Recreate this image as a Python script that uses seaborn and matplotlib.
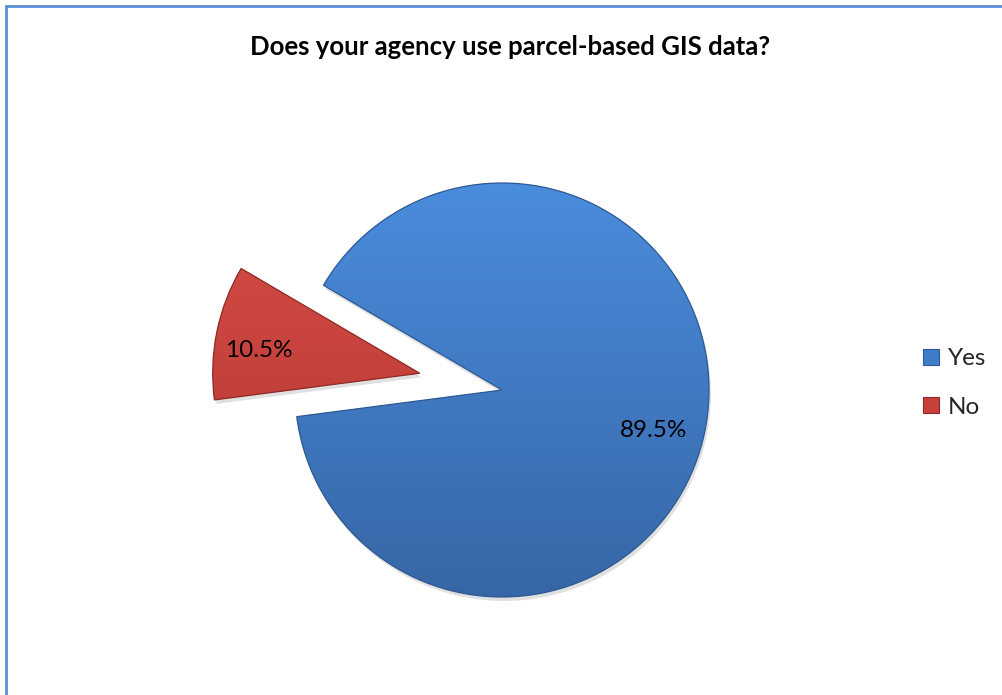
import numpy as np
import matplotlib
matplotlib.use("Agg")
import matplotlib.pyplot as plt
import seaborn as sns
from matplotlib.patches import Wedge, Rectangle
from matplotlib.lines import Line2D
from matplotlib.colors import LinearSegmentedColormap

# Survey answers
categories = ["Yes", "No"]
shares = [89.5, 10.5]
title = "Does your agency use parcel-based GIS data?"

sns.set_theme(style="white")
plt.rcParams["font.family"] = ["Lato", "DejaVu Sans"]

base_colors = ["#3F7DCB", "#C8403A"]
top_colors = ["#4A8DDD", "#D9504A"]
bottom_colors = ["#3766A6", "#B2332E"]
edge_colors = ["#2E5A93", "#8E2A26"]

W, H = 1002, 695
fig = plt.figure(figsize=(W / 100, H / 100), dpi=100)
fig.patch.set_facecolor("white")
ax = fig.add_axes([0, 0, 1, 1])

cx, cy, r = 502, H - 390, 207
pull = [0, 84]  # the "No" slice is pulled out of the pie

# soft drop shadow under the slices
shadow_w, _ = ax.pie(
    shares, startangle=149.6, counterclock=False, explode=pull,
    center=(cx + 2, cy - 4), radius=r,
    colors=["#000000", "#000000"],
    wedgeprops=dict(linewidth=0, alpha=0.12),
)
for sw in shadow_w:
    sw.set_zorder(0.5)

wedges, texts, autotexts = ax.pie(
    shares, startangle=149.6, counterclock=False, explode=pull,
    center=(cx, cy), radius=r, colors=base_colors,
    autopct="%.1f%%", pctdistance=0.77,
    textprops=dict(fontsize=17.5, color="black"),
    wedgeprops=dict(linewidth=0),
)

# vertical shading inside each slice
for w, c_top, c_bot, c_edge in zip(wedges, top_colors, bottom_colors, edge_colors):
    w.set_zorder(1)
    cmap = LinearSegmentedColormap.from_list("shade", [c_bot, c_top])
    grad = np.linspace(0, 1, 256).reshape(-1, 1)
    (x0, y0) = w.center
    im = ax.imshow(grad, extent=(x0 - r, x0 + r, y0 - r, y0 + r), origin="lower",
                   cmap=cmap, aspect="auto", zorder=1.1, interpolation="bicubic")
    im.set_clip_path(w)
    outline = Wedge(w.center, w.r, w.theta1, w.theta2, fill=False,
                    edgecolor=c_edge, linewidth=0.9, zorder=1.2)
    ax.add_patch(outline)

# percentage labels sit slightly lower-left of the default spot
for t in autotexts:
    t.set_zorder(3)
    x, y = t.get_position()
    t.set_position((x - 5, y - 9))

ax.set_xlim(0, W)
ax.set_ylim(0, H)
ax.set_aspect("equal")
ax.axis("off")

fig.text(510 / W, 1 - 47 / H, title, ha="center", va="center",
         fontsize=18.5, fontweight="bold", color="black")

handles = [Line2D([0], [0], marker="s", linestyle="none", markersize=11,
                  markerfacecolor=c, markeredgecolor=e, markeredgewidth=0.8)
           for c, e in zip(base_colors, edge_colors)]
fig.legend(handles, categories, loc="center left",
           bbox_to_anchor=(899 / W, 1 - 383 / H), frameon=False,
           fontsize=17.5, handlelength=0.8, handletextpad=0.3, labelspacing=1.15)

# chart frame
fig.add_artist(Rectangle((6 / W, -0.2), 2.0, 1.2 - 6 / H, transform=fig.transFigure,
                         fill=False, edgecolor="#5B8ED4", linewidth=2.0))

fig.savefig("out.png", dpi=100)
